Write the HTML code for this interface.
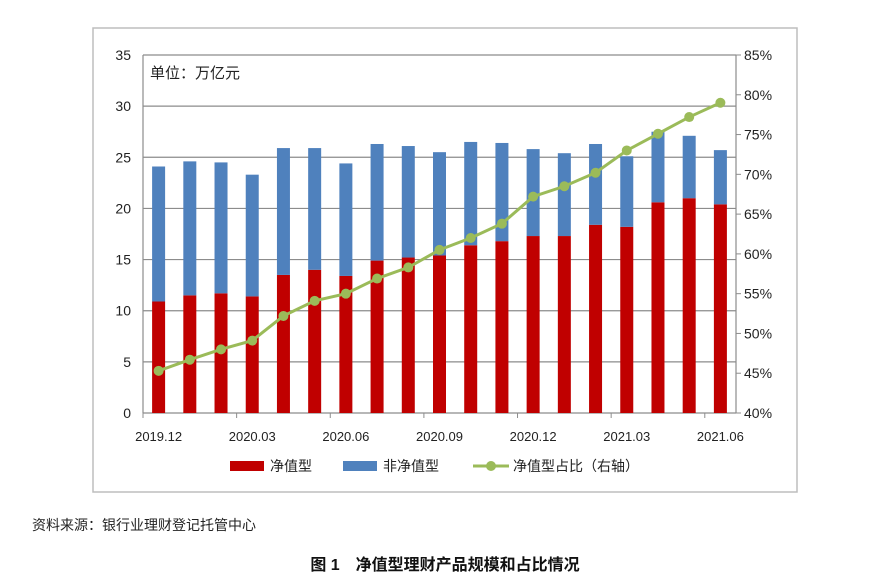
<!DOCTYPE html>
<html><head><meta charset="utf-8"><style>
body{margin:0;background:#fff;width:895px;height:582px;overflow:hidden;font-family:"Liberation Sans","Noto Sans CJK SC",sans-serif}
svg text{font-family:"Liberation Sans","Noto Sans CJK SC",sans-serif}
</style></head><body>
<svg id="c" width="895" height="582">
<rect x="93" y="28" width="704" height="464" fill="#fff" stroke="#bdbdbd" stroke-width="1.5"/>
<g id="g"></g>
<text x="150" y="78" font-size="15" fill="#222">单位：万亿元</text>
<text x="32" y="530" font-size="14" fill="#222">资料来源：银行业理财登记托管中心</text>
<text x="445" y="570" font-size="16" font-weight="bold" fill="#111" text-anchor="middle">图 1　净值型理财产品规模和占比情况</text>
</svg>
<script>
const categories=["2019.12","2020.01","2020.02","2020.03","2020.04","2020.05","2020.06","2020.07","2020.08","2020.09","2020.10","2020.11","2020.12","2021.01","2021.02","2021.03","2021.04","2021.05","2021.06"];
const netValue=[10.9,11.5,11.7,11.4,13.5,14.0,13.4,14.9,15.2,15.4,16.4,16.8,17.3,17.3,18.4,18.2,20.6,21.0,20.4];
const nonNetValue=[13.2,13.1,12.8,11.9,12.4,11.9,11.0,11.4,10.9,10.1,10.1,9.6,8.5,8.1,7.9,6.9,6.9,6.1,5.3];
const ratio=[45.3,46.7,48.0,49.1,52.2,54.1,55.0,56.9,58.3,60.5,62.0,63.8,67.2,68.5,70.2,73.0,75.1,77.2,79.0];
const leftTicks=[0,5,10,15,20,25,30,35];
const rightTicks=[40,45,50,55,60,65,70,75,80,85];
const xLabelIdx=[0,3,6,9,12,15,18];
const NS="http://www.w3.org/2000/svg",g=document.getElementById('g');
const X0=143,X1=736,Y0=413,Y1=55;
const bw=(X1-X0)/categories.length;
const yL=v=>Y0-(v/35)*(Y0-Y1);
const yR=v=>Y0-((v-40)/45)*(Y0-Y1);
const xC=i=>X0+(i+0.5)*bw;
function mk(t,a){const e=document.createElementNS(NS,t);for(const k in a)e.setAttribute(k,a[k]);g.appendChild(e);return e;}
leftTicks.forEach(v=>{
 const l=mk('line',{x1:X0,x2:X1,y1:yL(v),y2:yL(v),stroke:'#8c8c8c','stroke-width':1.2});
 
 
 const t=mk('text',{x:X0-12,y:yL(v)+5,'font-size':14,'text-anchor':'end',fill:'#222'});t.textContent=v;
 
 
});
rightTicks.forEach(v=>{
 const t=mk('text',{x:X1+8,y:yR(v)+5,'font-size':14,fill:'#222'});t.textContent=v+'%';
 
 
 const k=mk('line',{x1:X1,x2:X1+5,y1:yR(v),y2:yR(v),stroke:'#8c8c8c'});
 
 
});
mk('line',{x1:X0,x2:X0,y1:Y1,y2:Y0,stroke:'#8c8c8c','stroke-width':1.2});
mk('line',{x1:X1,x2:X1,y1:Y1,y2:Y0,stroke:'#8c8c8c','stroke-width':1.2});
categories.forEach((c,i)=>{
 const bx=xC(i)-6.5;
 const r=mk('rect',{x:bx,y:yL(netValue[i]),width:13,height:Y0-yL(netValue[i]),fill:'#c00000'});
 
 
 const tot=netValue[i]+nonNetValue[i];
 const b=mk('rect',{x:bx,y:yL(tot),width:13,height:yL(netValue[i])-yL(tot),fill:'#4f81bd'});
 
 
});
for(let i=0;i<=categories.length;i+=3){
 const tk=mk('line',{x1:X0+i*bw,x2:X0+i*bw,y1:Y0,y2:Y0+5,stroke:'#8c8c8c'});
 
 
}
xLabelIdx.forEach(i=>{
 const t=mk('text',{x:xC(i),y:Y0+28,'font-size':13,'text-anchor':'middle',fill:'#222'});t.textContent=categories[i];
 
 
});
const ln=mk('polyline',{points:ratio.map((v,i)=>xC(i)+','+yR(v)).join(' '),fill:'none',stroke:'#9bbb59','stroke-width':3});


ratio.forEach((v,i)=>{
 const p=mk('circle',{cx:xC(i),cy:yR(v),r:5,fill:'#9bbb59'});
 
 
});
const LY=466;
const items=[['rect','#c00000','净值型',230],['rect','#4f81bd','非净值型',343],['line','#9bbb59','净值型占比（右轴）',473]];
items.forEach(([k,c,s,x])=>{
 if(k==='rect'){const r=mk('rect',{x:x,y:LY-5,width:34,height:10,fill:c});}
 else{mk('line',{x1:x,x2:x+36,y1:LY,y2:LY,stroke:c,'stroke-width':3});mk('circle',{cx:x+18,cy:LY,r:5,fill:c});}
 const t=mk('text',{x:x+40,y:LY+5,'font-size':14,fill:'#222'});t.textContent=s;
 
 
});
</script>
</body></html>
